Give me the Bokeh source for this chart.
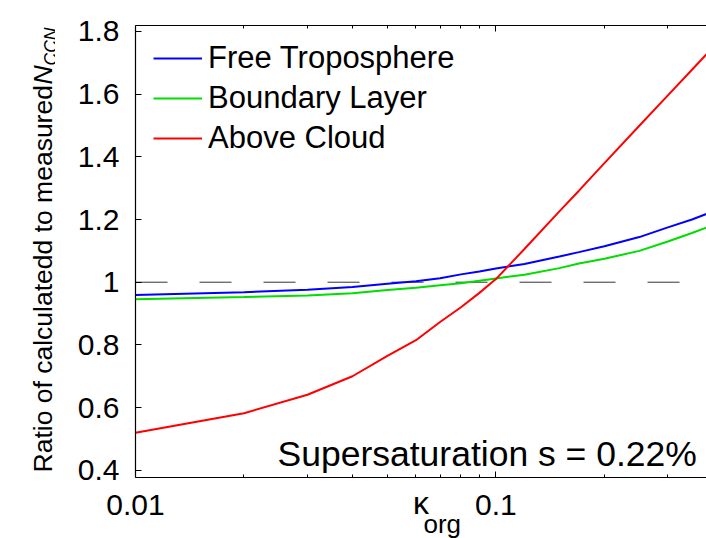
import math
from bokeh.plotting import figure
from bokeh.layouts import row
from bokeh.models import (Span, Label, Title, FixedTicker, LogAxis,
                          CustomJSTickFormatter, Range1d)
from bokeh.embed import file_html
from bokeh.resources import INLINE

# ---- data ----
kappa_org = [0.01, 0.02, 0.03, 0.04, 0.05, 0.06, 0.07, 0.08, 0.09, 0.1,
             0.12, 0.15, 0.17, 0.2, 0.25, 0.3, 0.35, 0.4]
free_troposphere = [0.959, 0.968, 0.976, 0.985, 0.995, 1.003, 1.013, 1.025, 1.034, 1.044,
                    1.058, 1.082, 1.096, 1.115, 1.144, 1.175, 1.200, 1.226]
boundary_layer = [0.946, 0.953, 0.958, 0.965, 0.975, 0.982, 0.990, 0.997, 1.005, 1.012,
                  1.024, 1.045, 1.060, 1.075, 1.100, 1.130, 1.157, 1.182]
above_cloud = [0.520, 0.582, 0.641, 0.700, 0.765, 0.815, 0.873, 0.920, 0.966, 1.010,
               1.106, 1.226, 1.292, 1.380, 1.499, 1.596, 1.678, 1.749]
series_names = ["Free Troposphere", "Boundary Layer", "Above Cloud"]
series_colors = ["#0000ff", "#00dd00", "#ff0000"]

x_major = [0.01, 0.1]
x_minor = [0.02, 0.03, 0.04, 0.05, 0.06, 0.07, 0.08, 0.09, 0.2, 0.3]
y_ticks = [0.4, 0.6, 0.8, 1.0, 1.2, 1.4, 1.6, 1.8]

FONT = "Liberation Sans"
STRIP_W = 55
H = 538

# ---- strip on the left holding the rotated y-axis title ----
strip = figure(width=STRIP_W, height=H, x_range=Range1d(0, 1), y_range=Range1d(0, 1),
               x_axis_location=None, y_axis_location=None,
               output_backend="svg", toolbar_location=None,
               min_border_left=0, min_border_right=0, min_border_top=0,
               min_border_bottom=0)
strip.outline_line_color = None
strip.grid.visible = False
strip.background_fill_color = "white"
strip.border_fill_color = "white"
strip.add_layout(Label(x=42, y=5, x_units="screen", y_units="screen",
                       text="Ratio of calculatedd to measured", angle=math.pi / 2,
                       text_font=FONT, text_font_size="26.5px", text_color="black",
                       text_baseline="alphabetic", text_align="left"))
strip.add_layout(Label(x=42, y=393, x_units="screen", y_units="screen",
                       text="N", angle=math.pi / 2, text_font_style="italic",
                       text_font=FONT, text_font_size="26.5px", text_color="black",
                       text_baseline="alphabetic", text_align="left"))
strip.add_layout(Label(x=50, y=412, x_units="screen", y_units="screen",
                       text="CCN", angle=math.pi / 2, text_font_style="italic",
                       text_font=FONT, text_font_size="17.5px", text_color="black",
                       text_baseline="alphabetic", text_align="left"))

# ---- main chart ----
p = figure(width=706 - STRIP_W, height=H, x_axis_type="log",
           x_range=Range1d(0.01, 0.384), y_range=Range1d(0.377, 1.819),
           output_backend="svg", toolbar_location=None,
           min_border_left=135 - STRIP_W, min_border_right=0, min_border_top=25,
           min_border_bottom=H - 477)
p.outline_line_color = None
p.grid.visible = False
p.background_fill_color = "white"
p.border_fill_color = "white"

ref = Span(location=1.0, dimension="width", line_color="#333333", line_width=1,
           line_dash="32 32", level="underlay")
p.add_layout(ref)

for ys, name, col in zip([free_troposphere, boundary_layer, above_cloud],
                         series_names, series_colors):
    p.line(kappa_org, ys, line_color=col, line_width=2, legend_label=name)


def style_axis(ax):
    ax.axis_line_color = "black"
    ax.axis_line_width = 1.2
    ax.major_tick_line_color = "black"
    ax.minor_tick_line_color = "black"
    ax.major_tick_in = 6
    ax.major_tick_out = 0
    ax.minor_tick_in = 3
    ax.minor_tick_out = 0
    ax.major_label_text_font = FONT
    ax.major_label_text_font_size = "30px"
    ax.major_label_text_color = "black"


xa = p.xaxis[0]
xa.ticker = FixedTicker(ticks=x_major, minor_ticks=x_minor)
xa.formatter = CustomJSTickFormatter(code="return tick.toString();")
style_axis(xa)
xa.major_label_standoff = 17
xa.axis_label = "κ"
xa.axis_label_text_font = FONT
xa.axis_label_text_font_size = "32px"
xa.axis_label_text_font_style = "normal"
xa.axis_label_text_color = "black"
xa.axis_label_standoff = -33

ya = p.yaxis[0]
ya.ticker = FixedTicker(ticks=y_ticks)
ya.formatter = CustomJSTickFormatter(code="return tick.toString();")
style_axis(ya)
ya.minor_tick_in = 0
ya.major_label_standoff = 16

top = LogAxis(ticker=FixedTicker(ticks=x_major, minor_ticks=x_minor),
              formatter=CustomJSTickFormatter(code="return tick.toString();"))
style_axis(top)
top.major_label_text_font_size = "8px"
top.major_label_text_color = None
top.major_label_standoff = 0
p.add_layout(top, "above")

# subscript of the x-axis title
p.add_layout(Title(text="org", align="left", offset=288, vertical_align="top",
                   standoff=-30, text_font=FONT, text_font_size="26px",
                   text_font_style="normal", text_color="black"), "below")

# legend
lg = p.legend[0]
lg.location = (18, 321)
lg.margin = 0
lg.padding = 0
lg.spacing = 4
lg.glyph_width = 49
lg.glyph_height = 36
lg.label_height = 36
lg.label_standoff = 6
lg.label_text_font = FONT
lg.label_text_font_size = "31px"
lg.label_text_color = "black"
lg.background_fill_alpha = 0
lg.border_line_color = None

# annotation
p.add_layout(Label(x=142, y=24, x_units="screen", y_units="screen",
                   text="Supersaturation s = 0.22%", text_font=FONT,
                   text_font_size="35.5px", text_color="black",
                   text_baseline="alphabetic"))

layout = row(strip, p)
open("out.html", "w").write(file_html(layout, INLINE))
